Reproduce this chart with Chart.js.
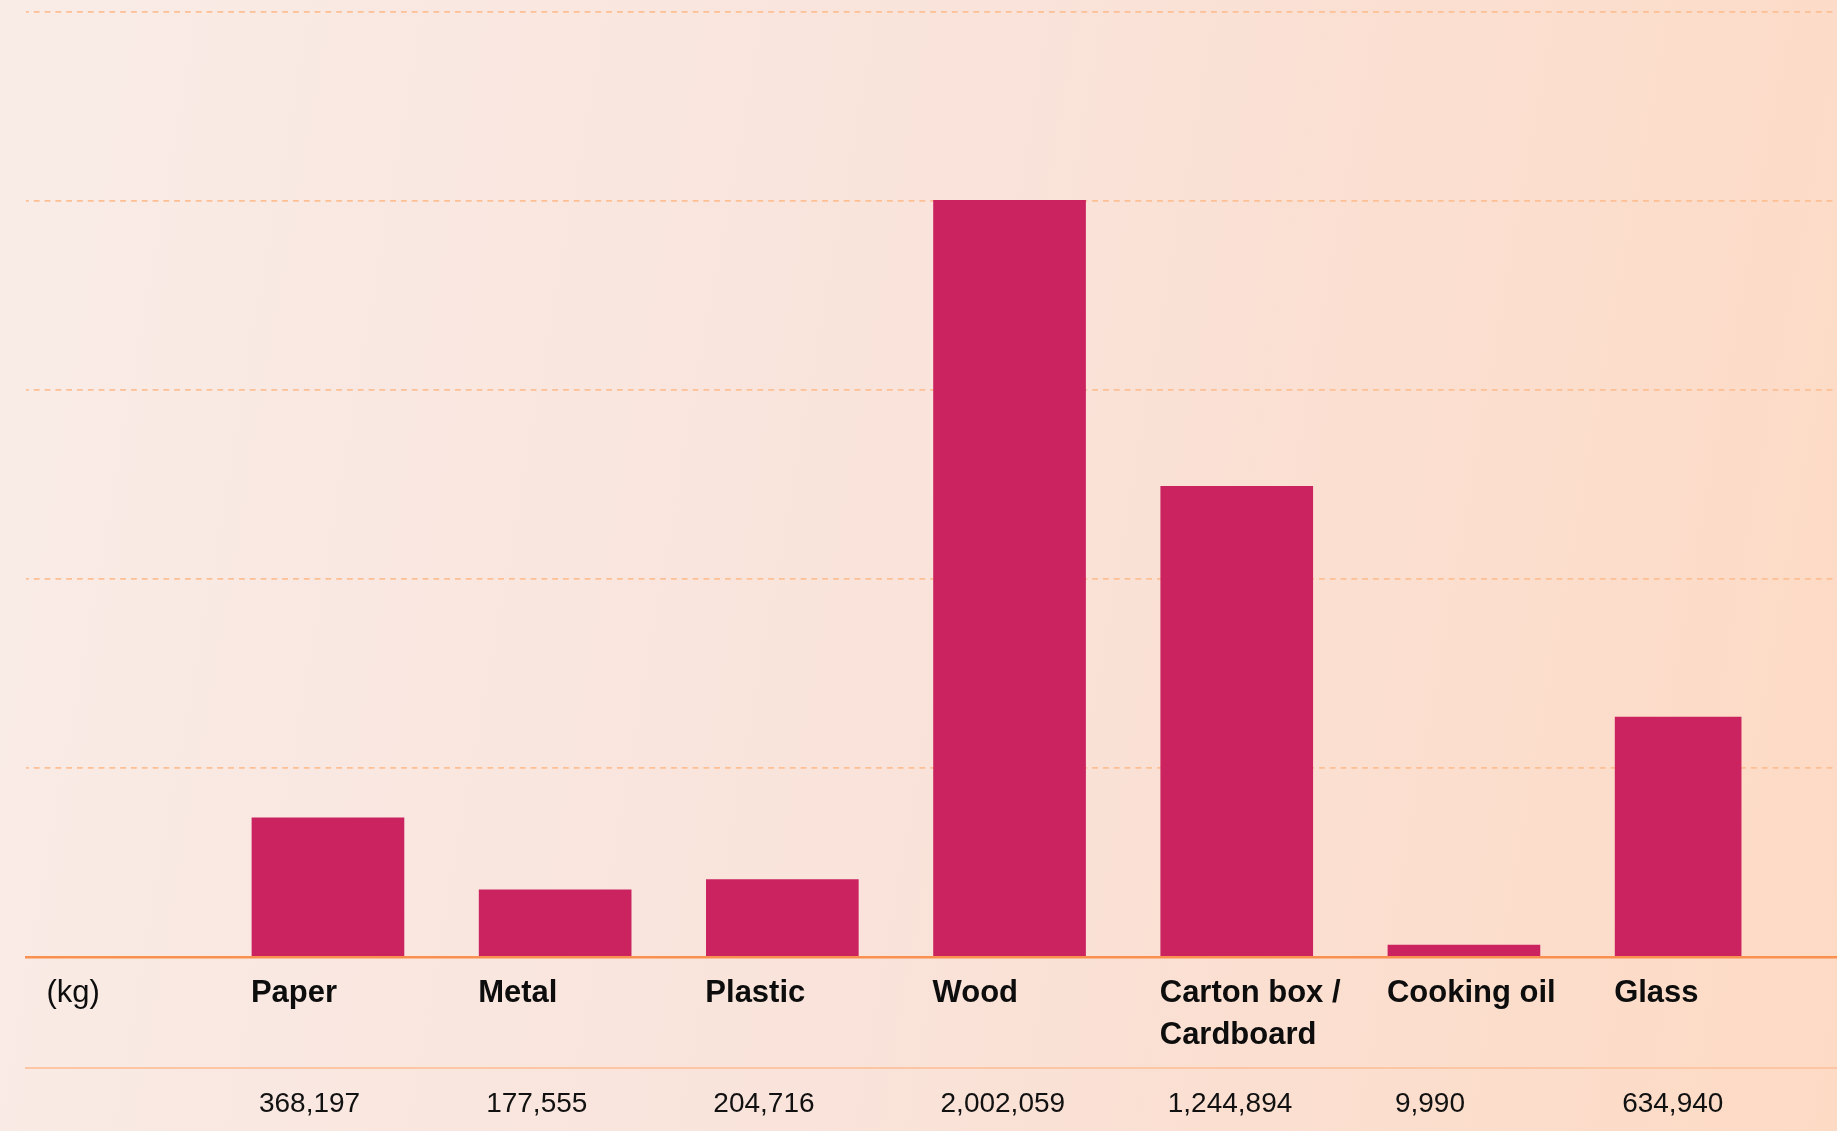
<!DOCTYPE html>
<html lang="en">
<head>
<meta charset="utf-8">
<title>Recycled waste by material</title>
<script src="https://cdn.jsdelivr.net/npm/chart.js@4.4.1/dist/chart.umd.min.js"></script>
<style>
  html, body { margin: 0; padding: 0; }
  body {
    width: 1837px;
    height: 1131px;
    overflow: hidden;
    background: linear-gradient(100deg, #f9ece7 0%, #f9e3da 50%, #fddac4 100%);
  }
  canvas { display: block; }
</style>
</head>
<body>
<canvas id="wasteChart" width="1837" height="1131"></canvas>
<script>
// Recycled waste collected per material, in kg
const UNIT_LABEL = '(kg)';
const categories = ['Paper', 'Metal', 'Plastic', 'Wood', ['Carton box /', 'Cardboard'], 'Cooking oil', 'Glass'];
const weights = [368197, 177555, 204716, 2002059, 1244894, 9990, 634940];
const Y_MAX = 2500000;
const Y_STEP = 500000;

const FONT = "'Liberation Sans', Arial, Helvetica, sans-serif";
const BAR_COLOR = '#ca2360';
const BAR_WIDTH = 152;
const GLASS_BAR_WIDTH = 126;

// column index of each material (column 0 holds the unit label)
const columns = categories.map((_, i) => i + 1);

// the last column is narrower, so its bar is too (left edge kept)
const narrowLastBar = {
    id: 'narrowLastBar',
    afterDatasetsUpdate(chart) {
        const bar = chart.getDatasetMeta(0).data[categories.length - 1];
        if (!bar) return;
        const left = bar.x - bar.width / 2;
        bar.width = GLASS_BAR_WIDTH;
        bar.x = left + GLASS_BAR_WIDTH / 2;
    }
};

// shared x range so both label rows line up with the bars
const X_MIN = -0.329;
const X_MAX = 7.642;

new Chart(document.getElementById('wasteChart'), {
    type: 'bar',
    data: {
        datasets: [{
            data: weights.map((w, i) => ({ x: columns[i], y: w })),
            backgroundColor: BAR_COLOR,
            borderWidth: 0,
            barThickness: BAR_WIDTH,
            minBarLength: 12
        }]
    },
    options: {
        responsive: false,
        animation: false,
        events: [],
        layout: { padding: { top: 12, left: 26, right: 0, bottom: 0 } },
        plugins: {
            legend: { display: false },
            tooltip: { enabled: false }
        },
        scales: {
            x: {
                type: 'linear',
                position: 'bottom',
                weight: 0,
                offset: false,
                bounds: 'data',
                min: X_MIN,
                max: X_MAX,
                afterBuildTicks: (scale) => {
                    scale.ticks = [0.1, ...columns].map(value => ({ value }));
                },
                afterFit: (scale) => { scale.height = 111; },
                grid: { offset: false, drawOnChartArea: false, drawTicks: false },
                border: { color: '#fa9050', width: 2.5, z: 1 },
                ticks: {
                    autoSkip: false,
                    maxRotation: 0,
                    align: 'start',
                    labelOffset: -77,
                    padding: 16,
                    color: '#0d0d0d',
                    font: (ctx) => ({
                        family: FONT,
                        size: 31,
                        weight: ctx.index === 0 ? 'normal' : 'bold',
                        lineHeight: 1.35
                    }),
                    callback: (value, index) => index === 0 ? UNIT_LABEL : categories[index - 1]
                }
            },
            x2: {
                type: 'linear',
                position: 'bottom',
                weight: 1,
                offset: false,
                bounds: 'data',
                min: X_MIN,
                max: X_MAX,
                afterBuildTicks: (scale) => {
                    scale.ticks = columns.map(value => ({ value }));
                },
                afterFit: (scale) => { scale.height = 63; },
                grid: { offset: false, drawOnChartArea: false, drawTicks: false },
                border: { color: '#fcc6a4', width: 2 },
                ticks: {
                    autoSkip: false,
                    maxRotation: 0,
                    align: 'start',
                    labelOffset: -69,
                    padding: 19,
                    color: '#111111',
                    font: { family: FONT, size: 28, lineHeight: 1.2 },
                    callback: (value, index) => weights[index].toLocaleString('en-US')
                }
            },
            y: {
                min: 0,
                max: Y_MAX,
                afterFit: (scale) => { scale.width = 0; },
                ticks: { display: false, stepSize: Y_STEP },
                grid: { color: '#fdbf94', lineWidth: 1.8, drawTicks: false },
                border: { display: false, dash: [5.8, 5], dashOffset: 3 }
            }
        }
    },
    plugins: [narrowLastBar]
});
</script>
</body>
</html>
